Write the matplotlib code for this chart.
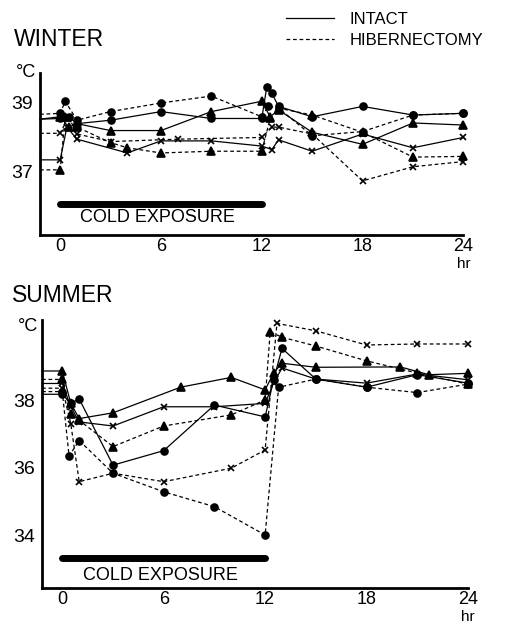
import matplotlib.pyplot as plt
from matplotlib.lines import Line2D

plt.rcParams['font.family'] = ['Liberation Sans', 'DejaVu Sans']

# winter, intact (solid)
w_int_circ_hr = [-1.2, 0, 0.5, 1, 3, 6, 9, 12, 12.3, 12.6, 13, 15, 18, 21, 24]
w_int_circ_c = [38.53, 38.55, 38.6, 38.4, 38.5, 38.75, 38.55, 38.55, 39.47, 39.28, 38.9, 38.6, 38.9, 38.65, 38.7]
w_int_tri_hr = [-1.2, 0, 0.5, 1, 3, 6, 9, 12, 12.5, 13, 15, 18, 21, 24]
w_int_tri_c = [38.53, 38.6, 38.3, 38.4, 38.2, 38.2, 38.75, 39.05, 38.6, 38.8, 38.15, 37.8, 38.42, 38.36]
w_int_x_hr = [-1.2, 0, 0.4, 1, 4, 6, 9, 12, 12.6, 13, 15, 18, 21, 24]
w_int_x_c = [37.35, 37.35, 38.3, 37.95, 37.55, 37.9, 37.9, 37.75, 37.65, 37.93, 37.6, 38.1, 37.7, 38.0]

# winter, hibernectomy (dashed)
w_hib_circ_hr = [-1.2, 0, 0.3, 1, 3, 6, 9, 12, 12.4, 13, 15, 18, 21, 24]
w_hib_circ_c = [38.67, 38.7, 39.05, 38.5, 38.75, 39.0, 39.2, 38.6, 38.9, 38.85, 38.05, 38.17, 38.65, 38.7]
w_hib_tri_hr = [-1.2, 0, 0.3, 1, 3, 4, 6, 9, 12, 12.5, 13, 15, 18, 21, 24]
w_hib_tri_c = [37.06, 37.06, 38.6, 38.3, 37.85, 37.7, 37.55, 37.6, 37.6, 38.55, 38.85, 38.65, 38.15, 37.43, 37.45]
w_hib_x_hr = [-1.2, 0, 0.5, 1, 3, 7, 12, 12.6, 13, 15, 18, 21, 24]
w_hib_x_c = [38.12, 38.12, 38.6, 38.1, 37.88, 37.95, 38.0, 38.3, 38.3, 38.1, 36.74, 37.15, 37.3]

# summer, intact (solid)
s_int_circ_hr = [-1.2, 0, 0.5, 1, 3, 6, 9, 12, 12.5, 13, 15, 18, 21, 24]
s_int_circ_c = [38.17, 38.17, 37.9, 38.03, 36.07, 36.5, 37.85, 37.5, 38.6, 39.53, 38.62, 38.38, 38.75, 38.5]
s_int_tri_hr = [-1.2, 0, 0.5, 1, 3, 7, 10, 12, 12.5, 13, 15, 20, 21.7, 24]
s_int_tri_c = [38.86, 38.86, 37.9, 37.45, 37.62, 38.38, 38.67, 38.3, 38.8, 39.09, 38.97, 38.98, 38.75, 38.79]
s_int_x_hr = [-1.2, 0, 0.5, 1, 3, 6, 9, 12, 12.5, 13, 15, 18, 21, 24]
s_int_x_c = [38.49, 38.49, 37.8, 37.35, 37.23, 37.8, 37.8, 37.9, 38.5, 38.95, 38.62, 38.5, 38.77, 38.6]

# summer, hibernectomy (dashed)
s_hib_circ_hr = [-1.2, 0, 0.4, 1, 3, 6, 9, 12, 12.8, 15, 18, 21, 24]
s_hib_circ_c = [38.25, 38.25, 36.34, 36.8, 35.83, 35.28, 34.84, 34.0, 38.38, 38.62, 38.38, 38.22, 38.47]
s_hib_tri_hr = [-1.2, 0, 0.5, 1, 3, 6, 10, 12, 12.3, 13, 15, 18, 21, 24]
s_hib_tri_c = [38.61, 38.61, 37.6, 37.4, 36.62, 37.23, 37.56, 38.0, 40.02, 39.86, 39.6, 39.16, 38.8, 38.47]
s_hib_x_hr = [-1.2, 0, 0.5, 1, 3, 6, 10, 12, 12.7, 15, 18, 21, 24]
s_hib_x_c = [38.35, 38.35, 37.3, 35.58, 35.83, 35.58, 35.98, 36.52, 40.27, 40.05, 39.63, 39.66, 39.66]

cold_hr = [0, 12]
hr_ticks = [0, 6, 12, 18, 24]

fig = plt.figure(figsize=(5.15, 6.27), dpi=100)
ax_w = fig.add_axes([0.0777, 0.6252, 0.822, 0.2584])
ax_s = fig.add_axes([0.0816, 0.0622, 0.827, 0.4274])

dash = (0, (3, 2.2))


def series(ax, hr, c, ls, marker):
    ms = {'o': 5, '^': 6, 'x': 5}[marker]
    ax.plot(hr, c, color='black', lw=0.9, ls=ls, marker=marker, ms=ms,
            mew=1.2, markevery=slice(1, None), clip_on=False)


def frame(ax, ylim, yticks, bar_y, text_y, deg_dy):
    ax.set_xlim(-1.2, 24)
    ax.set_ylim(*ylim)
    for s in ['top', 'right']:
        ax.spines[s].set_visible(False)
    for s in ['left', 'bottom']:
        ax.spines[s].set_linewidth(2)
    ax.set_xticks(hr_ticks)
    ax.set_xticklabels([str(t) for t in hr_ticks], fontsize=13)
    ax.set_yticks(yticks)
    ax.set_yticklabels([str(t) for t in yticks], fontsize=14)
    ax.tick_params(axis='x', length=0, pad=2)
    ax.tick_params(axis='y', length=0, pad=5)
    ax.plot(cold_hr, [bar_y, bar_y], color='black', lw=5, solid_capstyle='round')
    ax.text(1.2, text_y, 'COLD EXPOSURE', fontsize=13, va='center', ha='left')
    ax.annotate('hr', xy=(24, ylim[0]), xytext=(0, -16), textcoords='offset points',
                fontsize=11, ha='center', va='top')
    ax.annotate('°C', xy=(0, 1), xycoords='axes fraction', xytext=(-10, deg_dy),
                textcoords='offset points', fontsize=13, ha='center', va='center')


frame(ax_w, (35.17, 39.87), [37, 39], 36.07, 35.67, 0)
frame(ax_s, (32.43, 40.37), [34, 36, 38], 33.32, 32.8, -5)

series(ax_w, w_int_circ_hr, w_int_circ_c, '-', 'o')
series(ax_w, w_int_tri_hr, w_int_tri_c, '-', '^')
series(ax_w, w_int_x_hr, w_int_x_c, '-', 'x')
series(ax_w, w_hib_circ_hr, w_hib_circ_c, dash, 'o')
series(ax_w, w_hib_tri_hr, w_hib_tri_c, dash, '^')
series(ax_w, w_hib_x_hr, w_hib_x_c, dash, 'x')

series(ax_s, s_int_circ_hr, s_int_circ_c, '-', 'o')
series(ax_s, s_int_tri_hr, s_int_tri_c, '-', '^')
series(ax_s, s_int_x_hr, s_int_x_c, '-', 'x')
series(ax_s, s_hib_circ_hr, s_hib_circ_c, dash, 'o')
series(ax_s, s_hib_tri_hr, s_hib_tri_c, dash, '^')
series(ax_s, s_hib_x_hr, s_hib_x_c, dash, 'x')

fig.text(14 / 515, 1 - 40 / 627, 'WINTER', fontsize=16.5, va='center', ha='left')
fig.text(12 / 515, 1 - 295 / 627, 'SUMMER', fontsize=16.5, va='center', ha='left')

handles = [Line2D([], [], color='black', lw=0.9),
           Line2D([], [], color='black', lw=0.9, ls=dash)]
fig.legend(handles, ['INTACT', 'HIBERNECTOMY'], loc='upper left',
           bbox_to_anchor=(271 / 515, 1 + 3 / 627), frameon=False, fontsize=12,
           handlelength=2.9, handletextpad=0.9, labelspacing=0.35)

fig.savefig('out.png', dpi=100)
